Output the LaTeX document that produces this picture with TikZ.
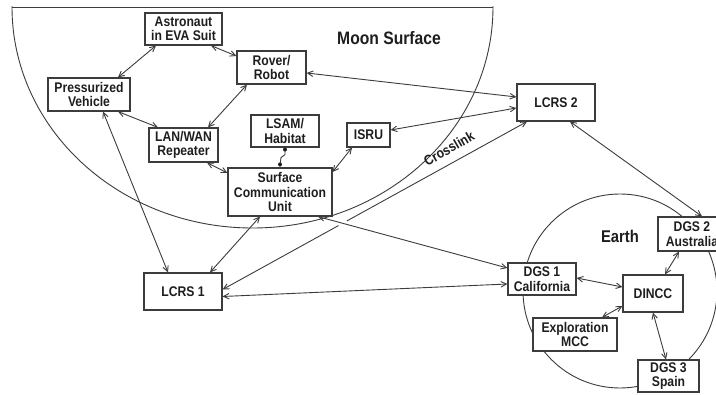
\documentclass[tikz,border=0pt]{standalone}
\usepackage{fontspec}
\newfontfamily\lab[FakeStretch=0.87]{Liberation Sans}
\usetikzlibrary{arrows.meta,calc,intersections}
\definecolor{ink}{HTML}{3C3C3C}
\definecolor{txt}{HTML}{1E1E1E}
\tikzset{
  box/.style={draw=ink, line width=1.2pt, fill=white, align=center, inner sep=0pt,
    text=txt, font=\lab\bfseries\fontsize{14}{14.5}\selectfont},
  conn/.style={draw=ink, line width=0.9pt, {Straight Barb[length=5.5pt,width=5.5pt]}-{Straight Barb[length=5.5pt,width=5.5pt]}},
  region/.style={draw=ink, line width=0.9pt},
  bigtitle/.style={text=txt, font=\lab\bfseries\fontsize{18}{20}\selectfont, inner sep=0pt},
}
\begin{document}
\begin{tikzpicture}[x=1pt,y=-1pt]
\useasboundingbox[fill=white] (0,0) rectangle (716,395);
% Moon surface region
\begin{scope}
  \clip (0,7) rectangle (716,395);
  \draw[region] (252.5,7) ellipse[x radius=240.5pt, y radius=221pt];
\end{scope}
\draw[region] (12,7) -- (493,7);
% Earth
\draw[region] (620,291) circle[radius=97];
\node[bigtitle] (moon) at (389,38) {Moon Surface};
\node[bigtitle, font=\lab\bfseries\fontsize{17}{19}\selectfont] (earth) at (620,236) {Earth};

% Nodes
\node[box, minimum width=77, minimum height=32] (astro) at (183.5,29) {Astronaut\\in EVA Suit};
\node[box, minimum width=69, minimum height=33] (rover) at (271.5,67.5) {Rover/\\Robot};
\node[box, minimum width=82, minimum height=33] (pv) at (89,94.5) {Pressurized\\Vehicle};
\node[box, minimum width=69, minimum height=34] (lan) at (183.5,145) {LAN/WAN\\Repeater};
\node[box, minimum width=68, minimum height=32] (lsam) at (285,131) {LSAM/\\Habitat};
\node[box, minimum width=43, minimum height=24] (isru) at (368.5,135) {ISRU};
\node[box, minimum width=104, minimum height=48] (scu) at (280,192) {Surface\\Communication\\Unit};
\node[box, minimum width=78, minimum height=37] (lcrs1) at (183,291.5) {LCRS 1};
\node[box, minimum width=78, minimum height=37] (lcrs2) at (556,102.5) {LCRS 2};
\node[box, minimum width=68, minimum height=32] (dgs1) at (542,279) {DGS 1\\California};
\node[box, minimum width=60, minimum height=37] (dincc) at (653,293.5) {DINCC};
\node[box, minimum width=84, minimum height=33] (mcc) at (575,334.5) {Exploration\\MCC};
\node[box, minimum width=68, minimum height=34] (dgs2) at (692,234) {DGS 2\\Australia};
\node[box, minimum width=61, minimum height=32] (dgs3) at (668.5,376) {DGS 3\\Spain};

% Connectors on the Moon
\draw[conn] ($(astro.south)+(-27.5,0)$) -- ($(pv.north)+(29,0)$);
\draw[conn] ($(astro.south)+(27.5,0)$) -- ($(rover.west)+(0,-11.5)$);
\draw[conn] ($(rover.south)+(-24.5,0)$) -- ($(lan.north)+(24.5,0)$);
\draw[conn] ($(pv.south)+(29,0)$) -- ($(lan.north)+(-25.5,0)$);
\draw[conn] ($(lan.south)+(23.5,0)$) -- ($(scu.west)+(0,-19)$);
\draw[conn] ($(isru.south)+(-16.5,0)$) -- ($(scu.east)+(0,-20)$);
% LSAM link
\draw[ink, line width=0.9pt] (lsam.south) -- ++(0,7) -- ++(-4,3) -- ($(scu.north)+(0,-3)$) -- (scu.north);
\fill[txt] ($(lsam.south)+(0,2)$) circle[radius=2];
\fill[txt] ($(scu.north)+(0,-3)$) circle[radius=2];

% Long links
\draw[conn] ($(rover.east)+(0,5.5)$) -- ($(lcrs2.west)+(0,-5.5)$);
\draw[conn] ($(isru.east)+(0,-5)$) -- ($(lcrs2.west)+(0,5.5)$);
\draw[conn, name path=cross] ($(lcrs1.east)+(0,-2)$) -- ($(lcrs2.south)+(-29,0)$);
\node[text=txt, font=\lab\bfseries\fontsize{14}{14}\selectfont, rotate=30, inner sep=0pt] (xlab) at (449,148.5) {Crosslink};
\draw[conn] ($(pv.south)+(14,0)$) -- ($(lcrs1.north)+(-15,0)$);
\draw[conn] ($(scu.south)+(-20,0)$) -- ($(lcrs1.north)+(27,0)$);
\path[name path=sd] ($(scu.south)+(38,0)$) -- ($(dgs1.west)+(0,-11)$);
\fill[white, name intersections={of=cross and sd, by=X}] (X) circle[radius=5];
\draw[conn] ($(scu.south)+(38,0)$) -- ($(dgs1.west)+(0,-11)$);
\draw[conn] ($(lcrs1.east)+(0,5)$) -- ($(dgs1.west)+(0,5)$);
\draw[conn] ($(lcrs2.south)+(14,0)$) -- ($(dgs2.north)+(10,0)$);

% Earth links
\draw[conn] ($(dgs1.east)+(0,-1)$) -- ($(dincc.west)+(0,-6.5)$);
\draw[conn] ($(dincc.north)+(12,0)$) -- ($(dgs2.south)+(-13,0)$);
\draw[conn] ($(dincc.west)+(0,12.5)$) -- ($(mcc.north)+(27,0)$);
\draw[conn] (dincc.south) -- ($(dgs3.north)+(-2.5,0)$);
\end{tikzpicture}
\end{document}
